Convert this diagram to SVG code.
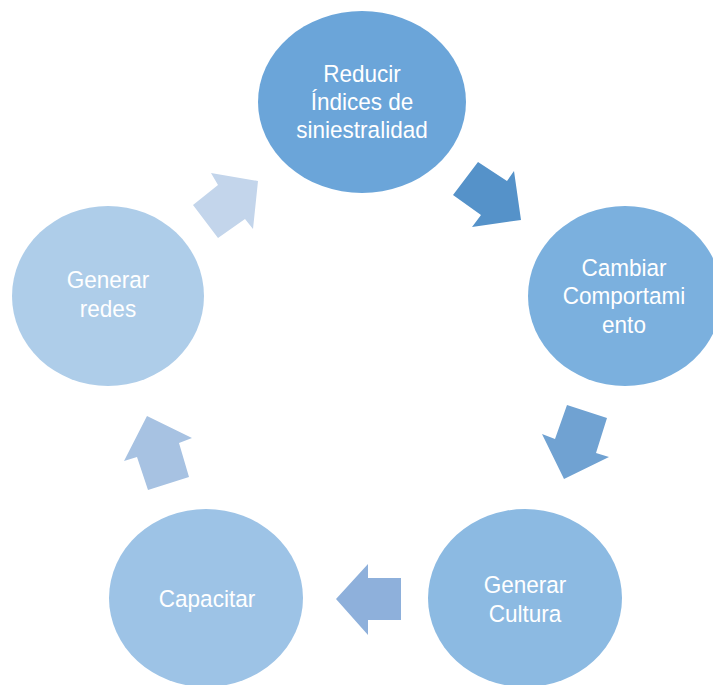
<svg xmlns="http://www.w3.org/2000/svg" width="713" height="685" viewBox="0 0 713 685">
<style>
text{font-family:"Liberation Sans",Arial,sans-serif;font-size:24.5px;fill:#ffffff;text-anchor:middle}
</style>
<rect width="713" height="685" fill="#ffffff"/>
<g id="connectors">
<polygon points="453,195 478,162 507,181 514,171 521,220 472,227 481,215" fill="#5592c9"/>
<polygon points="567,405 607,418 596,453 609,457 564,479 542,434 555,439" fill="#70a2d2"/>
<polygon points="336,599 368,564 368,578 401,578 401,620 368,620 368,635" fill="#8eb0db"/>
<polygon points="147,416 192,438 179,443 189,477 148,490 137,457 124,461" fill="#a7c2e2"/>
<polygon points="258,181 253,229 245,219 218,238 193,205 218,185 211,173" fill="#c3d5eb"/>
</g>
<g id="n1">
<ellipse cx="362" cy="102" rx="104" ry="91" fill="#6ba5d9"/>
<g transform="matrix(0.92 0 0 1 28.96 0)">
<text x="362" y="82">Reducir</text>
<text x="362" y="110">Índices de</text>
<text x="362" y="138">siniestralidad</text>
</g>
</g>
<g id="n2">
<ellipse cx="625" cy="296" rx="97" ry="90" fill="#7bb0de"/>
<g transform="matrix(0.92 0 0 1 49.92 0)">
<text x="624" y="276">Cambiar</text>
<text x="624" y="304">Comportami</text>
<text x="624" y="333">ento</text>
</g>
</g>
<g id="n3">
<ellipse cx="525" cy="598" rx="97" ry="89" fill="#8cbae2"/>
<g transform="matrix(0.92 0 0 1 42 0)">
<text x="525" y="593">Generar</text>
<text x="525" y="622">Cultura</text>
</g>
</g>
<g id="n4">
<ellipse cx="206" cy="598" rx="97" ry="89" fill="#9dc3e6"/>
<g transform="matrix(0.92 0 0 1 16.56 0)">
<text x="207" y="607">Capacitar</text>
</g>
</g>
<g id="n5">
<ellipse cx="108" cy="296" rx="96" ry="90" fill="#aecde9"/>
<g transform="matrix(0.92 0 0 1 8.64 0)">
<text x="108" y="288">Generar</text>
<text x="108" y="317">redes</text>
</g>
</g>
</svg>
